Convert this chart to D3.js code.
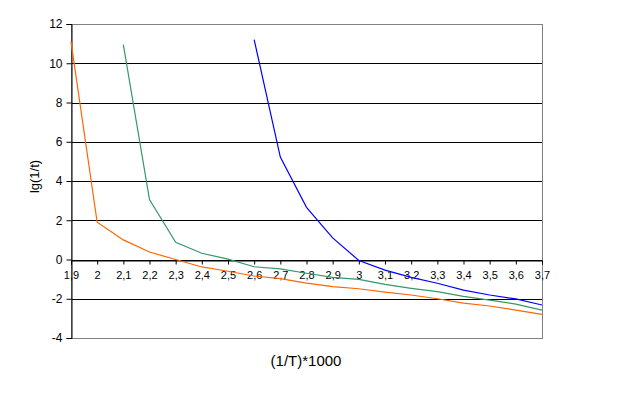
<!DOCTYPE html>
<html><head><meta charset="utf-8">
<script src="https://cdn.jsdelivr.net/npm/d3@7"></script>
<style>body{margin:0;background:#fff}svg{display:block}text{font-family:"Liberation Sans",Arial,sans-serif}</style>
</head><body>
<svg id="c" width="632" height="395"></svg>
<script>
const xTicks = [1.9,2.0,2.1,2.2,2.3,2.4,2.5,2.6,2.7,2.8,2.9,3.0,3.1,3.2,3.3,3.4,3.5,3.6,3.7];
const yTicks = [-4,-2,0,2,4,6,8,10,12];
const xOrange = [1.9,2.0,2.1,2.2,2.3,2.4,2.5,2.6,2.7,2.8,2.9,3.0,3.1,3.2,3.3,3.4,3.5,3.6,3.7];
const yOrange = [11.1,1.9,1.0,0.38,0.0,-0.38,-0.6,-0.84,-0.97,-1.2,-1.38,-1.49,-1.66,-1.81,-2.0,-2.22,-2.37,-2.58,-2.8];
const xGreen = [2.1,2.2,2.3,2.4,2.5,2.6,2.7,2.8,2.9,3.0,3.1,3.2,3.3,3.4,3.5,3.6,3.7];
const yGreen = [10.95,3.05,0.88,0.32,0.02,-0.37,-0.48,-0.7,-0.91,-1.01,-1.27,-1.47,-1.64,-1.88,-2.07,-2.27,-2.58];
const xBlue = [2.6,2.7,2.8,2.9,3.0,3.1,3.2,3.3,3.4,3.5,3.6,3.7];
const yBlue = [11.2,5.22,2.66,1.1,-0.05,-0.54,-0.91,-1.21,-1.56,-1.81,-2.01,-2.32];

const svg = d3.select("#c");
const L=71,R=542,T=24,B=338;
const x = d3.scaleLinear().domain([1.9,3.7]).range([L,R]);
const y = d3.scaleLinear().domain([-4,12]).range([B,T]);
const fmt = d => d3.format(".1f")(d).replace(/\.0$/,"").replace(".",",");

svg.append("g").selectAll("line").data(yTicks.filter(v=>v>-4&&v<12)).join("line")
  .attr("x1",L).attr("x2",R).attr("y1",d=>Math.round(y(d))+0.5).attr("y2",d=>Math.round(y(d))+0.5)
  .attr("stroke","#000").attr("stroke-width",1);
svg.append("rect").attr("x",L+0.5).attr("y",Math.round(T)+0.5).attr("width",R-L).attr("height",Math.round(B)-Math.round(T))
  .attr("fill","none").attr("stroke","#808080");

const ya = svg.append("g").attr("transform",`translate(${L+0.5},0)`)
  .call(d3.axisLeft(y).tickValues(yTicks).tickSize(5).tickPadding(4).tickFormat(d=>d));
ya.select(".domain").attr("stroke","#000");
ya.selectAll(".tick line").attr("stroke","#000");
ya.selectAll("text").attr("font-size","12px").attr("fill","#000");

const xa = svg.append("g").attr("transform",`translate(0,${Math.round(y(0))+0.5})`)
  .call(d3.axisBottom(x).tickValues(xTicks).tickSize(4).tickPadding(7).tickFormat(fmt));
xa.select(".domain").attr("stroke","#000");
xa.selectAll(".tick line").attr("stroke","#000");
xa.selectAll("text").attr("font-size","11px").attr("fill","#000");

const line = d3.line().x(d=>x(d[0])).y(d=>y(d[1]));
const series = [
  {xs:xOrange, ys:yOrange, c:"#FF6600"},
  {xs:xGreen, ys:yGreen, c:"#339966"},
  {xs:xBlue, ys:yBlue, c:"#0000FF"}
];
series.forEach(s=>{
  svg.append("path").attr("d",line(s.xs.map((v,i)=>[v,s.ys[i]])))
    .attr("fill","none").attr("stroke",s.c).attr("stroke-width",1.2);
});

svg.append("text").attr("transform","translate(39,176.5) rotate(-90)").attr("text-anchor","middle")
  .attr("font-size","13px").text("lg(1/t)");
svg.append("text").attr("x",306).attr("y",366).attr("text-anchor","middle")
  .attr("font-size","15px").text("(1/T)*1000");
</script>
</body></html>
